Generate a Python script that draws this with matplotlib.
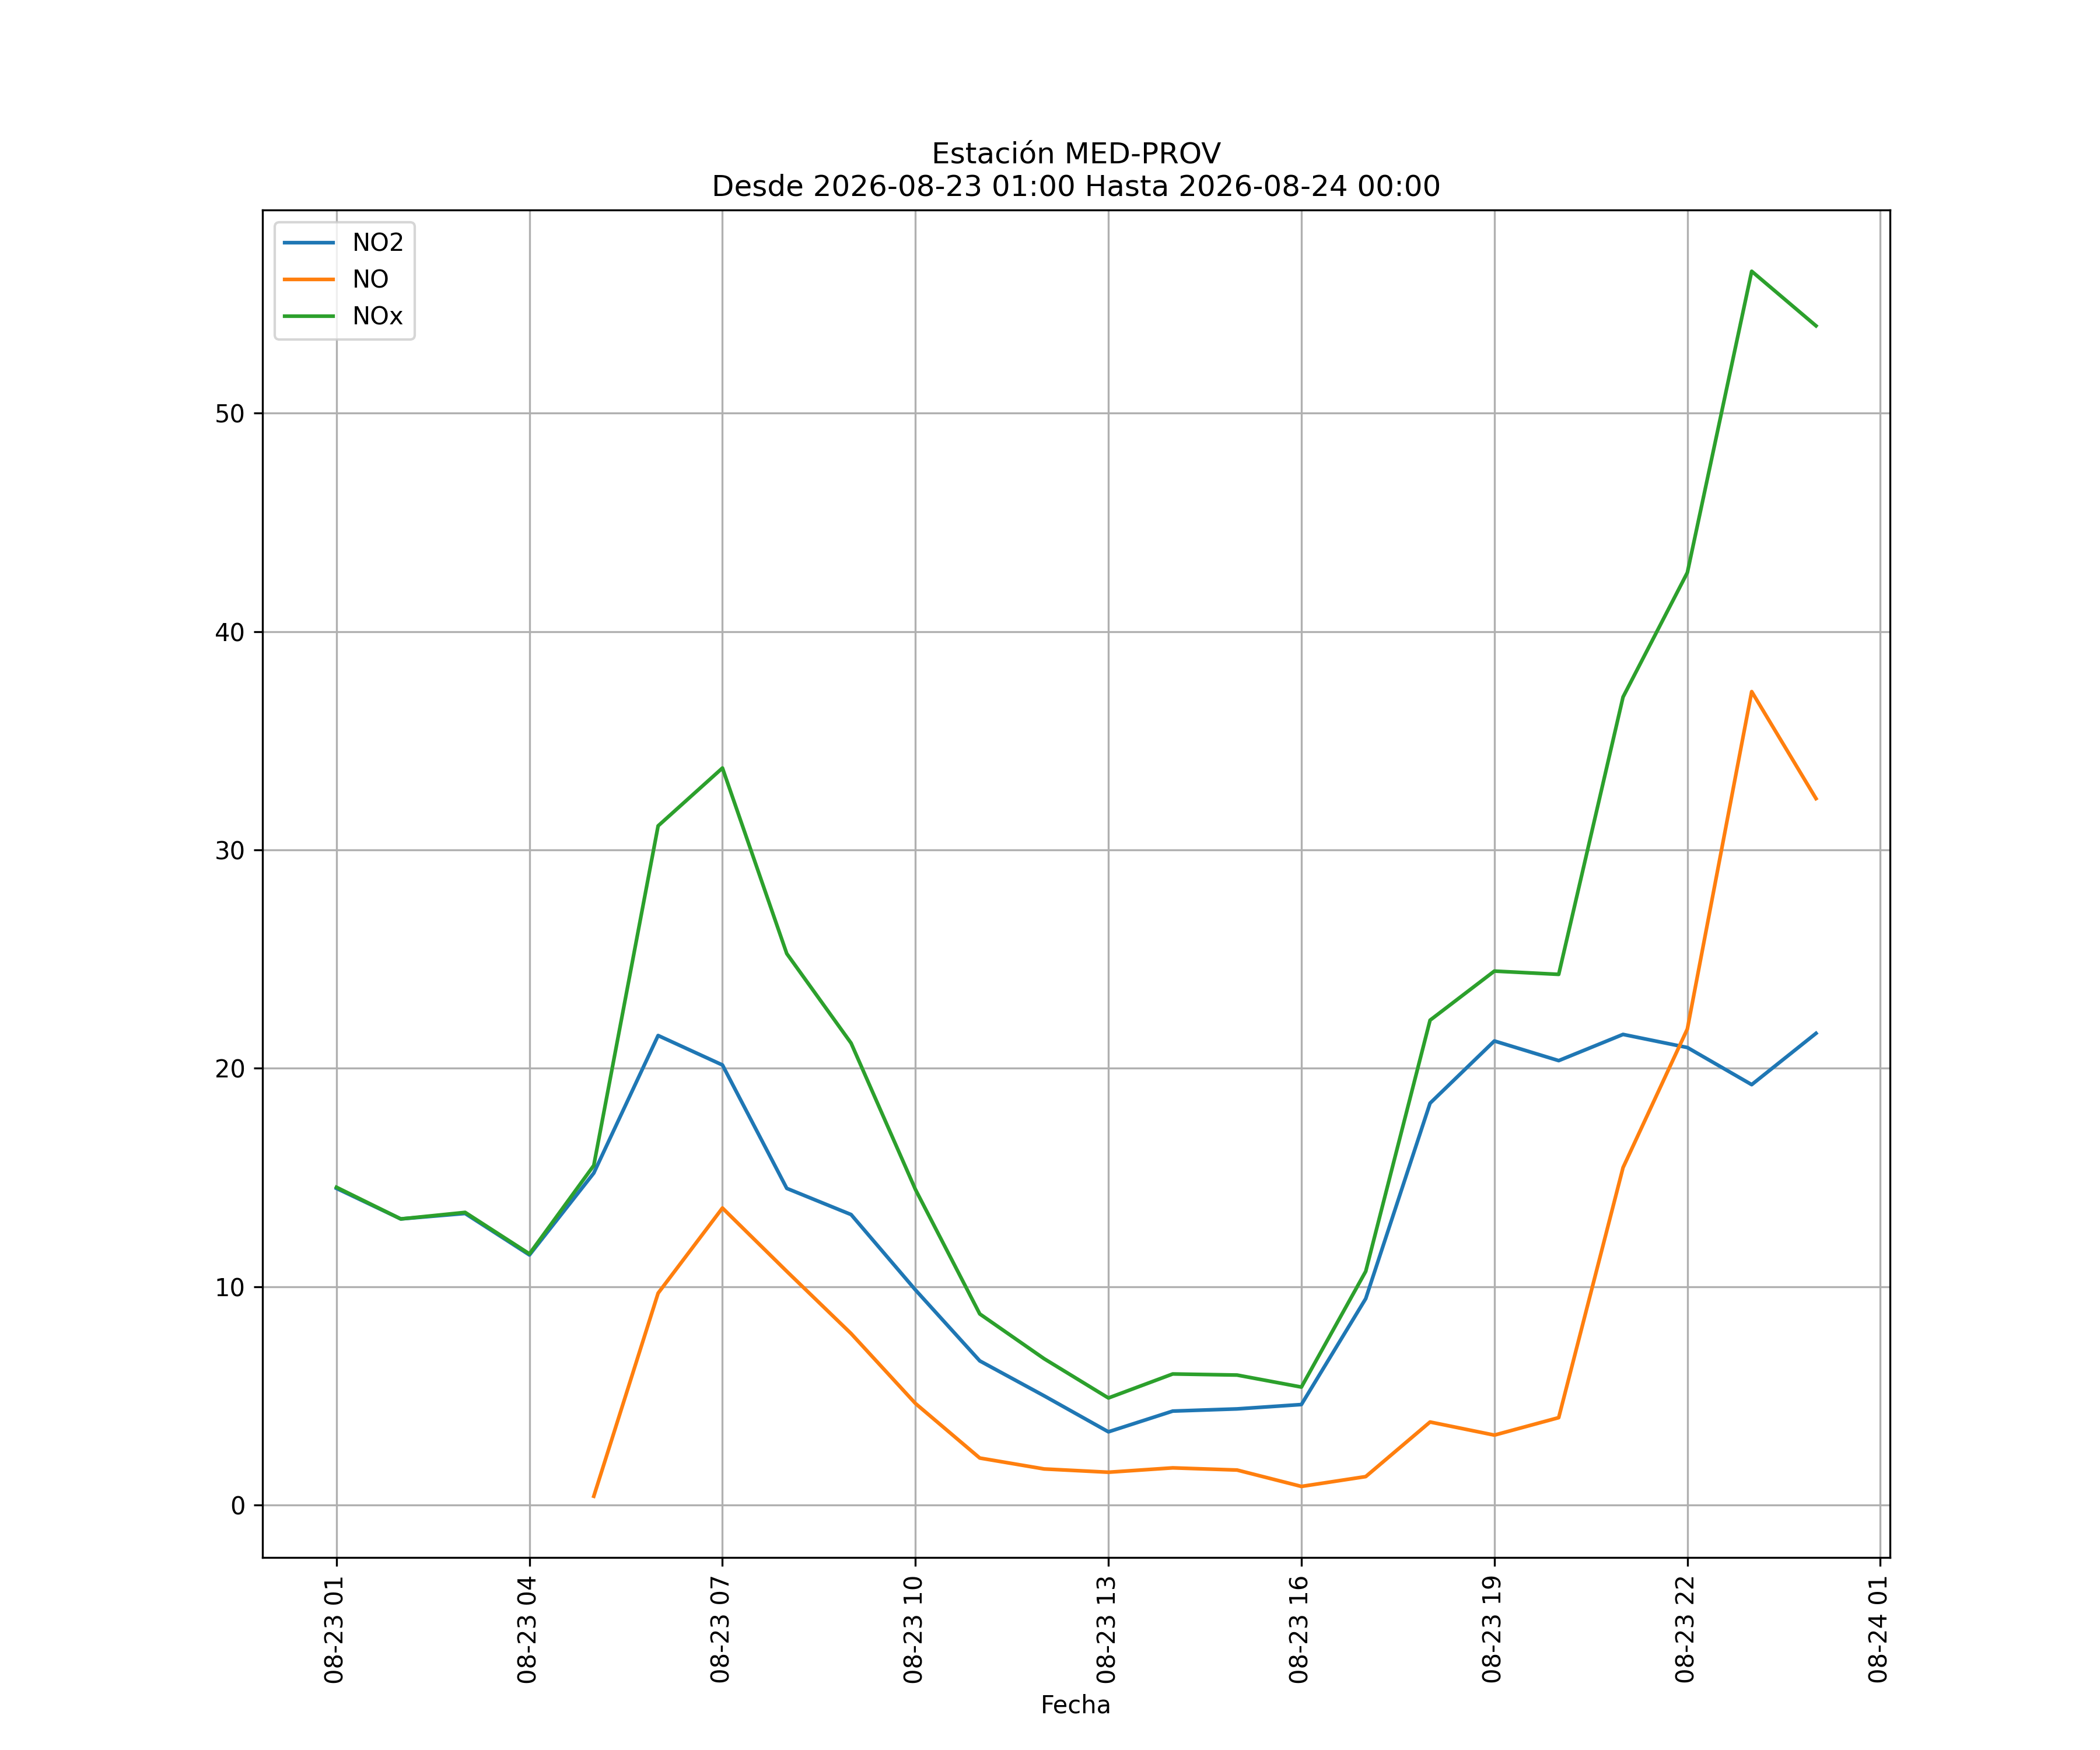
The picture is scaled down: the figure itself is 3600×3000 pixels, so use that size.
import numpy as np
import pandas as pd
import matplotlib
matplotlib.use("Agg")
import matplotlib.pyplot as plt
import matplotlib.dates as mdates

fechas = pd.date_range("2026-08-23 01:00", "2026-08-24 00:00", freq="h")

no2 = [14.5, 13.1, 13.35, 11.45, 15.2, 21.5, 20.15, 14.5, 13.3, 9.85, 6.6, 5.0,
       3.35, 4.3, 4.4, 4.6, 9.45, 18.4, 21.25, 20.35, 21.55, 20.95, 19.25, 21.6]
no = [np.nan, np.nan, np.nan, np.nan, 0.4, 9.7, 13.6, 10.7, 7.85, 4.65, 2.15, 1.65,
      1.5, 1.7, 1.6, 0.85, 1.3, 3.8, 3.2, 4.0, 15.45, 21.8, 37.25, 32.35]
nox = [14.55, 13.1, 13.4, 11.5, 15.55, 31.1, 33.75, 25.25, 21.15, 14.45, 8.75, 6.7,
       4.9, 6.0, 5.95, 5.4, 10.7, 22.2, 24.45, 24.3, 37.0, 42.7, 56.5, 54.0]

fig, ax = plt.subplots(figsize=(12, 10), dpi=300)
ax.plot(fechas, no2, label="NO2")
ax.plot(fechas, no, label="NO")
ax.plot(fechas, nox, label="NOx")
ax.set_title("Estación MED-PROV\nDesde 2026-08-23 01:00 Hasta 2026-08-24 00:00")
ax.set_xlabel("Fecha")
ax.legend(loc="upper left")
ax.grid(True)
ax.xaxis.set_major_locator(mdates.HourLocator(byhour=range(1, 24, 3)))
ax.xaxis.set_major_formatter(mdates.DateFormatter("%m-%d %H"))
plt.setp(ax.get_xticklabels(), rotation=90)
fig.savefig("out.png", dpi=300)
